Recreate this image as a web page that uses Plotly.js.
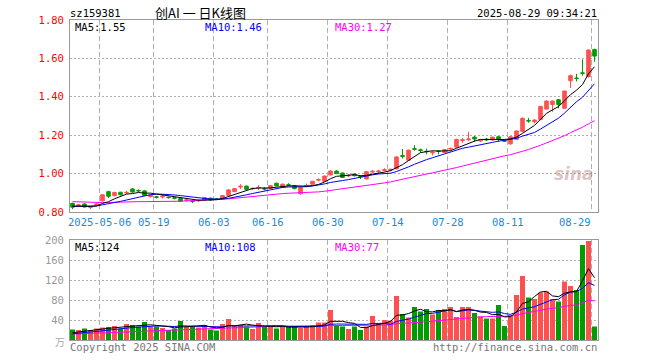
<!DOCTYPE html>
<html><head><meta charset="utf-8">
<script src="https://cdn.plot.ly/plotly-3.0.1.min.js"></script>
<style>html,body{margin:0;padding:0;background:#fff}#chart{width:660px;height:360px}</style>
</head><body><div id="chart"></div>
<script>
// ---- data ----
const dates = ['04-24','04-25','04-28','04-29','04-30',
 '05-06','05-07','05-08','05-09','05-12','05-13','05-14','05-15','05-16','05-19','05-20','05-21','05-22','05-23','05-26','05-27','05-28','05-29','05-30',
 '06-03','06-04','06-05','06-06','06-09','06-10','06-11','06-12','06-13','06-16','06-17','06-18','06-19','06-20','06-23','06-24','06-25','06-26','06-27','06-30',
 '07-01','07-02','07-03','07-04','07-07','07-08','07-09','07-10','07-11','07-14','07-15','07-16','07-17','07-18','07-21','07-22','07-23','07-24','07-25','07-28','07-29','07-30','07-31',
 '08-01','08-04','08-05','08-06','08-07','08-08','08-11','08-12','08-13','08-14','08-15','08-18','08-19','08-20','08-21','08-22','08-25','08-26','08-27','08-28','08-29'];
const open = [0.845,0.834,0.842,0.824,0.836, 0.858,0.906,0.885,0.903,0.899, 0.920,0.912,0.910,0.880,0.879,
 0.878,0.877,0.874,0.870,0.861, 0.857,0.858,0.862,0.872,0.868, 0.870,0.886,0.906,0.930,0.935,
 0.920,0.925,0.922,0.923,0.950, 0.928,0.942,0.937,0.895,0.935, 0.945,0.966,0.960,0.993,1.013,
 1.003,0.988,0.998,0.986,0.972, 1.008,1.010,1.016,1.018,1.025, 1.094,1.070,1.130,1.124,1.116,
 1.108,1.118,1.110,1.128,1.138, 1.172,1.176,1.190,1.170,1.179, 1.175,1.192,1.172,1.155,1.178,
 1.220,1.277,1.270,1.282,1.336, 1.360,1.385,1.340,1.484,1.498, 1.525,1.505,1.647];
const high = [0.848,0.840,0.845,0.830,0.845, 0.892,0.910,0.905,0.905,0.910, 0.925,0.918,0.913,0.892,0.882,
 0.892,0.880,0.877,0.872,0.866, 0.860,0.864,0.878,0.875,0.872, 0.888,0.918,0.925,0.945,0.938,
 0.928,0.940,0.928,0.940,0.952, 0.948,0.950,0.940,0.930,0.948, 0.962,0.975,0.990,1.018,1.018,
 1.006,0.996,1.000,0.990,1.012, 1.018,1.020,1.028,1.026,1.090, 1.128,1.125,1.148,1.130,1.130,
 1.118,1.122,1.128,1.136,1.182, 1.185,1.218,1.196,1.178,1.186, 1.192,1.195,1.178,1.195,1.225,
 1.292,1.290,1.282,1.352,1.382, 1.380,1.388,1.432,1.515,1.520, 1.595,1.645,1.650];
const low = [0.815,0.830,0.824,0.815,0.832, 0.856,0.872,0.882,0.886,0.895, 0.900,0.903,0.882,0.876,0.870,
 0.870,0.870,0.866,0.852,0.855, 0.846,0.853,0.860,0.858,0.862, 0.868,0.884,0.904,0.920,0.912,
 0.915,0.915,0.912,0.920,0.934, 0.925,0.935,0.918,0.890,0.930, 0.943,0.960,0.957,0.990,0.998,
 0.978,0.982,0.985,0.972,0.970, 1.004,1.005,1.012,1.012,1.022, 1.078,1.065,1.120,1.110,1.100,
 1.095,1.100,1.108,1.120,1.135, 1.160,1.170,1.165,1.165,1.170, 1.172,1.165,1.165,1.150,1.175,
 1.215,1.265,1.262,1.278,1.334, 1.322,1.340,1.338,1.446,1.480, 1.510,1.500,1.583];
const close = [0.825,0.837,0.826,0.828,0.842, 0.890,0.882,0.902,0.890,0.902, 0.904,0.910,0.886,0.890,0.877,
 0.882,0.875,0.872,0.856,0.863, 0.855,0.861,0.876,0.862,0.866, 0.886,0.915,0.922,0.934,0.918,
 0.923,0.928,0.920,0.938,0.936, 0.945,0.940,0.922,0.928,0.938, 0.960,0.969,0.987,1.013,1.000,
 0.980,0.991,0.989,0.984,1.010, 1.012,1.013,1.020,1.022,1.087, 1.090,1.122,1.127,1.120,1.114,
 1.111,1.115,1.125,1.131,1.178, 1.176,1.180,1.180,1.176,1.176, 1.190,1.178,1.169,1.192,1.222,
 1.288,1.274,1.279,1.350,1.378, 1.378,1.360,1.430,1.510,1.495, 1.522,1.644,1.612];
const volume = [21,20,23,20,23,25,26,28,23,32, 30,27,36,27,27,24,20,23,38,27,
 27,25,30,21,19,32,42,28,30,27, 22,34,26,27,23,27,26,26,24,27,
 30,35,35,60,30,27,22,27,20,27, 48,32,40,39,88,52,45,66,57,62,
 51,60,62,66,46,66,66,54,47,43, 43,70,28,50,90,128,85,82,95,97,
 82,77,117,108,100,190,198,27];
// closes / volumes of the days before the window (estimated, feed the moving averages)
const priorCloses = [0.880,0.870,0.875,0.880,0.870,0.865,0.860,0.870,0.875,0.880,0.885,0.890,0.880,0.895,0.900,0.905,
 0.810,0.800,0.815,0.820,0.825,0.830,0.835,0.830,0.825,0.830,0.835,0.830,0.832];
const priorVolumes = [10,11,12,10,13,12,11,12,14,11,10,12,13,12,11,10,12,11,13,12,11,10,9,10,11,12,13,14,13];
const tickDates = ['05-06','05-19','06-03','06-16','06-30','07-14','07-28','08-11','08-29'];
const tickLabels = ['2025-05-06','05-19','06-03','06-16','06-30','07-14','07-28','08-11','08-29'];
const priceTicks = [0.8,1.0,1.2,1.4,1.6,1.8];
const volTicks = [40,80,120,160,200];

// ---- helpers ----
function ma(series, prior, n){
  const all = prior.concat(series), P = prior.length;
  return series.map((_, i) => { let s = 0; for (let k = 0; k < n; k++) s += all[P + i - k]; return s / n; });
}
const xs = dates.map((d, i) => i);
const UP = '#ff5050', DN = '#009c00';
const volColors = close.map((c, i) => c >= open[i] ? UP : DN);
const tickPos = tickDates.map(d => dates.indexOf(d) - 0.42);

const traces = [
  {type:'candlestick', x:xs, open:open, high:high, low:low, close:close, xaxis:'x', yaxis:'y',
   increasing:{line:{color:UP,width:1}, fillcolor:UP}, decreasing:{line:{color:DN,width:1}, fillcolor:DN},
   whiskerwidth:0, hoverinfo:'skip', showlegend:false},
  {type:'scatter', mode:'lines', x:xs, y:ma(close, priorCloses, 30), line:{color:'#ff00ff', width:1}, xaxis:'x', yaxis:'y', hoverinfo:'skip'},
  {type:'scatter', mode:'lines', x:xs, y:ma(close, priorCloses, 10), line:{color:'#0000ff', width:1}, xaxis:'x', yaxis:'y', hoverinfo:'skip'},
  {type:'scatter', mode:'lines', x:xs, y:ma(close, priorCloses, 5), line:{color:'#000000', width:1}, xaxis:'x', yaxis:'y', hoverinfo:'skip'},
  {type:'bar', x:xs, y:volume, width:0.83, marker:{color:volColors, line:{width:0}}, xaxis:'x2', yaxis:'y2', hoverinfo:'skip'},
  {type:'scatter', mode:'lines', x:xs, y:ma(volume, priorVolumes, 30), line:{color:'#ff00ff', width:1}, xaxis:'x2', yaxis:'y2', hoverinfo:'skip'},
  {type:'scatter', mode:'lines', x:xs, y:ma(volume, priorVolumes, 10), line:{color:'#0000ff', width:1}, xaxis:'x2', yaxis:'y2', hoverinfo:'skip'},
  {type:'scatter', mode:'lines', x:xs, y:ma(volume, priorVolumes, 5), line:{color:'#000000', width:1}, xaxis:'x2', yaxis:'y2', hoverinfo:'skip'}
];

const MONO = 'DejaVu Sans Mono';
const xBase = {range:[-0.4167, 87.583], tickvals:tickPos, ticktext:tickLabels, showticklabels:false, ticks:'',
  showgrid:true, gridcolor:'#b0b0b0', griddash:'5px,3px', gridwidth:1,
  showline:true, mirror:true, linecolor:'#999', linewidth:1, zeroline:false, fixedrange:true};
const yBase = {ticks:'', showgrid:true, gridcolor:'#b0b0b0', griddash:'2px,2px', gridwidth:1,
  showline:true, mirror:true, linecolor:'#999', linewidth:1, zeroline:false, fixedrange:true, ticklabelstandoff:3};

function px2x(p){ return (p - 70) / 528; }
function px2y(p){ return (340 - p) / 320; }
const ann = [];
function txt(text, x, y, xa, color, size, family, extra){
  ann.push(Object.assign({text:text, x:px2x(x), y:px2y(y), xref:'paper', yref:'paper', xanchor:xa, yanchor:'middle',
    showarrow:false, font:{family:family||MONO, size:size||10, color:color||'#000'}, borderpad:0}, extra||{}));
}
txt('sz159381', 69, 13, 'left', '#000', 10.5);
txt('创AI 一 日K线图', 200, 12, 'center', '#000', 13, 'Noto Sans CJK SC');
txt('2025-08-29 09:34:21', 598, 13, 'right', '#000', 10.5);
txt('MA5:1.55', 74, 27, 'left', '#000', 10.5);
txt('MA10:1.46', 204, 27, 'left', '#0000ff', 10.5);
txt('MA30:1.27', 334, 27, 'left', '#ff00ff', 10.5);
txt('MA5:124', 74, 247, 'left', '#000', 10.5);
txt('MA10:108', 204, 247, 'left', '#0000ff', 10.5);
txt('MA30:77', 334, 247, 'left', '#ff00ff', 10.5);
txt('万', 66, 341, 'right', '#aaa', 10, 'Noto Sans CJK SC');
txt('Copyright 2025 SINA.COM', 69, 347, 'left', '#777', 10.5);
txt('http://finance.sina.com.cn', 598, 347, 'right', '#777', 10.5);
txt('<i><b>sina</b></i>', 574, 174, 'center', 'rgba(180,120,120,0.45)', 17, 'DejaVu Sans');
tickDates.forEach((d, k) => {
  const last = k === tickDates.length - 1;
  ann.push({text:tickLabels[k], x:tickPos[k], y:px2y(222), xref:'x', yref:'paper', xanchor: last ? 'right' : 'center',
    yanchor:'middle', showarrow:false, font:{family:MONO, size:10.5, color:'#1a8ad8'}, borderpad:0});
});

const layout = {
  width:660, height:360, margin:{l:70, r:62, t:20, b:20, pad:0},
  paper_bgcolor:'#fff', plot_bgcolor:'#fff', showlegend:false, boxgap:0.15,
  font:{family:MONO, size:10, color:'#000'},
  xaxis: Object.assign({}, xBase, {anchor:'y', domain:[0,1], rangeslider:{visible:false}}),
  xaxis2: Object.assign({}, xBase, {anchor:'y2', domain:[0,1]}),
  yaxis: Object.assign({}, yBase, {anchor:'x', domain:[px2y(212), 1], range:[0.8, 1.8], tickvals:priceTicks,
    ticktext:priceTicks.map(v => v.toFixed(2)), tickfont:{family:MONO, size:10.5, color:'#ff0000'}}),
  yaxis2: Object.assign({}, yBase, {anchor:'x2', domain:[0, px2y(240)], range:[0, 200], tickvals:volTicks,
    ticktext:volTicks.map(String), tickfont:{family:MONO, size:10.5, color:'#999'}}),
  annotations: ann
};
Plotly.newPlot('chart', traces, layout, {staticPlot:true, displayModeBar:false});
</script></body></html>
